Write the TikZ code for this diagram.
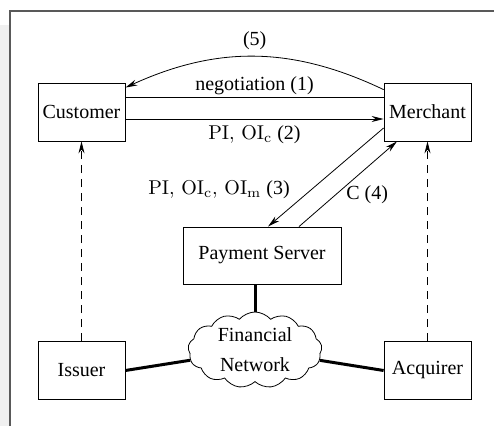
\documentclass[tikz,border=0pt]{standalone}
\usepackage[no-math]{fontspec}
\setmainfont{Liberation Serif}
\usetikzlibrary{arrows.meta,shapes.symbols}
\begin{document}
\begin{tikzpicture}[x=0.5pt,y=-0.5pt,
    party/.style={draw,thin,minimum width=43.5pt,minimum height=29pt,inner sep=0pt},
    msg/.style={thin,-{Stealth[length=6pt,width=3pt]}},
    link/.style={line width=1.5pt},
    trust/.style={msg,dash pattern=on 4pt off 3pt}]
  \useasboundingbox (0,0) rectangle (494,426);
  \fill[black!6] (0,25) rectangle (9,426);
  \draw[black!65,line width=0.8pt] (494,11) -- (10,11) -- (10,426);
  \draw
    (81.5,112) node[party] (customer){Customer}
    (427.5,112) node[party] (merchant){Merchant}
    (262,255.5) node[party,minimum width=79pt,minimum height=28.5pt] (payserver){Payment Server}
    (81.5,370.5) node[party] (issuer){Issuer}
    (427.5,370.5) node[party] (acquirer){Acquirer}
    (255,350) node[cloud,draw,thin,cloud puffs=13,cloud puff arc=100,aspect=1.7,
      minimum width=67pt,minimum height=38pt,inner sep=0pt,align=center] (finnet){Financial\\[3pt]Network};
  \begin{scope}[msg]
    \draw[-] ([yshift=7.5pt]customer.east) to node[above,inner sep=1pt] {negotiation (1)} ([yshift=7.5pt]merchant.west);
    \draw ([yshift=-3.5pt]customer.east) to node[below] {$\mathrm{PI,\,OI_c}$ (2)} ([yshift=-3.5pt]merchant.west);
    \draw ([yshift=-8pt]merchant.west) to node[pos=0.63,left=7pt] {$\mathrm{PI,\,OI_c,\,OI_m}$ (3)} ([xshift=3pt]payserver.north);
    \draw ([xshift=18.5pt]payserver.north) to node[pos=0.37,right=2pt] {C (4)} ([xshift=-15.25pt]merchant.south);
    \draw ([yshift=-3.5pt]merchant.north west) to[bend right=25] node[above=0pt] {(5)} ([yshift=-2.5pt]customer.north east);
  \end{scope}
  \begin{scope}[trust]
    \draw (issuer) to (customer);
    \draw (acquirer) to (merchant);
  \end{scope}
  \begin{scope}[link]
    \draw ([xshift=-3.5pt]payserver.south) to (finnet);
    \draw (issuer.east) to (finnet);
    \draw (acquirer.west) to (finnet);
  \end{scope}
\end{tikzpicture}
\end{document}
